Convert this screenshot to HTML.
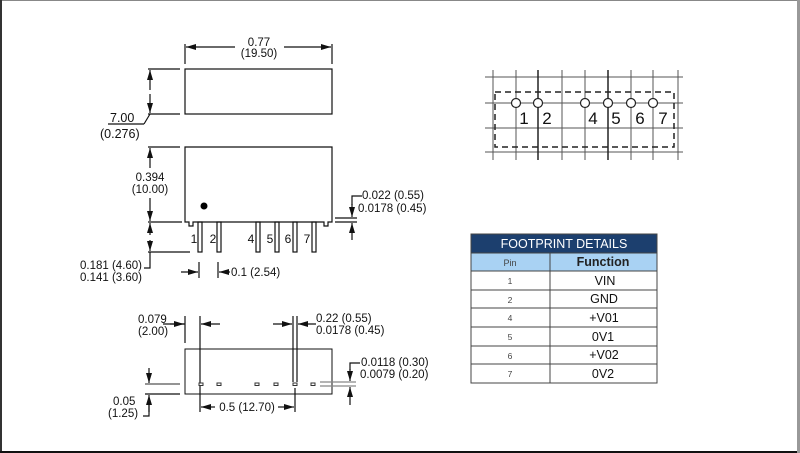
<!DOCTYPE html>
<html><head><meta charset="utf-8"><style>
html,body{margin:0;padding:0;background:#fff}
body{width:800px;height:453px;overflow:hidden;position:relative}
svg{position:absolute;left:0;top:0}
text{font-family:"Liberation Sans",Arial,sans-serif;fill:#111}
</style></head><body>
<svg width="800" height="453" viewBox="0 0 800 453">
<defs>
<marker id="a" viewBox="0 0 10 6" refX="10" refY="3" markerWidth="10" markerHeight="6" markerUnits="userSpaceOnUse" orient="auto"><path d="M0,0L10,3L0,6z" fill="#111"/></marker>
</defs>
<!-- frame -->
<rect x="0" y="0" width="800" height="1" fill="#888"/>
<rect x="0" y="0" width="2" height="453" fill="#333"/>
<rect x="0" y="451" width="800" height="2" fill="#111"/>
<rect x="797" y="0" width="3" height="453" fill="#999"/>

<g stroke="#111" stroke-width="1.2" fill="none">
<!-- top view -->
<rect x="185" y="69" width="147" height="45"/>
<line x1="185" y1="44" x2="185" y2="64"/><line x1="332" y1="44" x2="332" y2="64"/>
<line x1="235" y1="47" x2="186" y2="47" marker-end="url(#a)"/>
<line x1="284" y1="47" x2="331" y2="47" marker-end="url(#a)"/>
<line x1="148" y1="69" x2="180" y2="69"/><line x1="148" y1="114" x2="180" y2="114"/>
<line x1="150" y1="90" x2="150" y2="70" marker-end="url(#a)"/>
<line x1="150" y1="94" x2="150" y2="113" marker-end="url(#a)"/>
<line x1="108" y1="124" x2="144" y2="124"/><line x1="144" y1="124" x2="150" y2="114"/>
<!-- side view -->
<path d="M185,147H332V222H328V226H324V222H193V226H189V222H185Z"/>
<line x1="148" y1="147" x2="180" y2="147"/><line x1="148" y1="222" x2="182" y2="222"/>
<line x1="148" y1="252" x2="190" y2="252"/>
<line x1="150" y1="168" x2="150" y2="148" marker-end="url(#a)"/>
<line x1="150" y1="198" x2="150" y2="221" marker-end="url(#a)"/>
<line x1="150" y1="235" x2="150" y2="223" marker-end="url(#a)"/>
<line x1="150" y1="240" x2="150" y2="251" marker-end="url(#a)"/>
<path d="M150,252V268H144"/>
<rect x="198" y="222" width="4" height="30"/><rect x="217" y="222" width="4" height="30"/>
<rect x="256" y="222" width="4" height="30"/><rect x="275" y="222" width="4" height="30"/>
<rect x="293" y="222" width="4" height="30"/><rect x="312" y="222" width="4" height="30"/>
<line x1="199" y1="262" x2="199" y2="278"/><line x1="218" y1="262" x2="218" y2="278"/>
<line x1="181" y1="272" x2="198" y2="272" marker-end="url(#a)"/>
<line x1="230" y1="272" x2="219" y2="272" marker-end="url(#a)"/>
<line x1="335" y1="218" x2="357" y2="218"/><line x1="335" y1="222" x2="357" y2="222"/>
<path d="M362,196H352V205"/>
<line x1="352" y1="204" x2="352" y2="217" marker-end="url(#a)"/>
<line x1="352" y1="240" x2="352" y2="223" marker-end="url(#a)"/>
<!-- bottom view -->
<rect x="185" y="349" width="147" height="45" stroke-width="1"/>
<line x1="185" y1="316" x2="185" y2="343"/><line x1="200" y1="316" x2="200" y2="412"/>
<line x1="293" y1="316" x2="293" y2="382"/><line x1="297" y1="316" x2="297" y2="382"/>
<line x1="295" y1="388" x2="295" y2="412"/>
<path d="M163,324H185"/><line x1="170" y1="324" x2="184" y2="324" marker-end="url(#a)"/>
<line x1="220" y1="324" x2="201" y2="324" marker-end="url(#a)"/>
<line x1="273" y1="324" x2="292" y2="324" marker-end="url(#a)"/>
<line x1="316" y1="324" x2="298" y2="324" marker-end="url(#a)"/>
<line x1="145" y1="384" x2="180" y2="384" stroke="#555"/><line x1="145" y1="394" x2="180" y2="394"/>
<line x1="149" y1="368" x2="149" y2="383" marker-end="url(#a)"/>
<line x1="149" y1="412" x2="149" y2="395" marker-end="url(#a)"/>
<path d="M149,405V416H143"/>
<line x1="215" y1="407" x2="201" y2="407" marker-end="url(#a)"/>
<line x1="278" y1="407" x2="294" y2="407" marker-end="url(#a)"/>
<line x1="320" y1="382" x2="356" y2="382" stroke="#888"/><line x1="320" y1="386" x2="356" y2="386" stroke="#888"/>
<path d="M360,363H350V370"/>
<line x1="350" y1="369" x2="350" y2="381" marker-end="url(#a)"/>
<line x1="350" y1="405" x2="350" y2="387" marker-end="url(#a)"/>
</g>
<g fill="#fff" stroke="#333" stroke-width="1">
<rect x="199" y="383" width="4" height="2.5"/><rect x="217" y="383" width="4" height="2.5"/>
<rect x="255" y="383" width="4" height="2.5"/><rect x="274" y="383" width="4" height="2.5"/>
<rect x="293" y="383" width="4" height="2.5"/><rect x="311" y="383" width="4" height="2.5"/>
</g>
<circle cx="204" cy="206" r="3.5" fill="#000"/>

<g font-size="11.5">
<text x="259" y="46" text-anchor="middle">0.77</text>
<text x="259" y="57" text-anchor="middle">(19.50)</text>
<text x="110" y="122" font-size="12.5">7.00</text>
<text x="100" y="138" font-size="12.5">(0.276)</text>
<text x="150" y="181" text-anchor="middle">0.394</text>
<text x="150" y="193" text-anchor="middle">(10.00)</text>
<text x="80" y="269">0.181 (4.60)</text>
<text x="80" y="281">0.141 (3.60)</text>
<text x="231" y="276">0.1 (2.54)</text>
<text x="362" y="199">0.022 (0.55)</text>
<text x="358" y="212">0.0178 (0.45)</text>
<text x="138" y="323">0.079</text>
<text x="138" y="335">(2.00)</text>
<text x="316" y="322">0.22 (0.55)</text>
<text x="316" y="334">0.0178 (0.45)</text>
<text x="361" y="366">0.0118 (0.30)</text>
<text x="360" y="378">0.0079 (0.20)</text>
<text x="113" y="405">0.05</text>
<text x="108" y="417">(1.25)</text>
<text x="247" y="411" text-anchor="middle">0.5 (12.70)</text>
</g>
<g font-size="12" text-anchor="middle">
<text x="194" y="243">1</text><text x="213" y="243">2</text><text x="251" y="243">4</text>
<text x="270" y="243">5</text><text x="288" y="243">6</text><text x="307" y="243">7</text>
</g>

<!-- footprint grid -->
<g stroke="#555" stroke-width="1">
<line x1="485" y1="77" x2="683" y2="77"/><line x1="485" y1="103" x2="683" y2="103"/>
<line x1="485" y1="128" x2="683" y2="128"/><line x1="485" y1="152" x2="683" y2="152"/>
<line x1="493" y1="70" x2="493" y2="160"/><line x1="516" y1="70" x2="516" y2="160"/>
<line x1="538" y1="70" x2="538" y2="160" stroke="#222" stroke-width="1.5"/><line x1="562" y1="70" x2="562" y2="160"/>
<line x1="585" y1="70" x2="585" y2="160"/><line x1="608" y1="70" x2="608" y2="160" stroke="#222" stroke-width="1.5"/>
<line x1="631" y1="70" x2="631" y2="160"/><line x1="653" y1="70" x2="653" y2="160"/>
<line x1="678" y1="70" x2="678" y2="160"/>
</g>
<rect x="495" y="92" width="179" height="55" fill="none" stroke="#222" stroke-width="1.5" stroke-dasharray="6,4"/>
<g fill="#fff" stroke="#222" stroke-width="1.2">
<circle cx="516" cy="103" r="4.5"/><circle cx="538" cy="103" r="4.5"/><circle cx="585" cy="103" r="4.5"/>
<circle cx="608" cy="103" r="4.5"/><circle cx="631" cy="103" r="4.5"/><circle cx="653" cy="103" r="4.5"/>
</g>
<g font-size="17" text-anchor="middle">
<text x="524" y="124">1</text><text x="547" y="124">2</text><text x="593" y="124">4</text>
<text x="616" y="124">5</text><text x="640" y="124">6</text><text x="663" y="124">7</text>
</g>

<!-- table -->
<rect x="471" y="234" width="186" height="19" fill="#1c3f6e"/>
<text x="564" y="248" font-size="12.5" text-anchor="middle" style="fill:#fff">FOOTPRINT DETAILS</text>
<rect x="471" y="253" width="186" height="18" fill="#a9d2f3"/>
<g stroke="#444" stroke-width="1" fill="none">
<rect x="471" y="234" width="186" height="149"/>
<line x1="471" y1="253" x2="657" y2="253"/>
<line x1="471" y1="271" x2="657" y2="271"/><line x1="471" y1="290" x2="657" y2="290"/>
<line x1="471" y1="308" x2="657" y2="308"/><line x1="471" y1="327" x2="657" y2="327"/>
<line x1="471" y1="346" x2="657" y2="346"/><line x1="471" y1="364" x2="657" y2="364"/>
<line x1="550" y1="253" x2="550" y2="383"/>
</g>
<text x="510" y="266" font-size="9" text-anchor="middle" style="fill:#444">Pin</text>
<text x="603" y="266" font-size="12.5" font-weight="bold" text-anchor="middle" style="fill:#222">Function</text>
<g font-size="8.5" text-anchor="middle" style="fill:#444">
<text x="510" y="284" style="fill:#444">1</text><text x="510" y="303" style="fill:#444">2</text>
<text x="510" y="321" style="fill:#444">4</text><text x="510" y="340" style="fill:#444">5</text>
<text x="510" y="359" style="fill:#444">6</text><text x="510" y="377" style="fill:#444">7</text>
</g>
<g font-size="12.5" text-anchor="middle">
<text x="605" y="285">VIN</text><text x="604" y="303">GND</text><text x="604" y="322">+V01</text>
<text x="603" y="341">0V1</text><text x="604" y="359">+V02</text><text x="603" y="378">0V2</text>
</g>
</svg>
</body></html>
